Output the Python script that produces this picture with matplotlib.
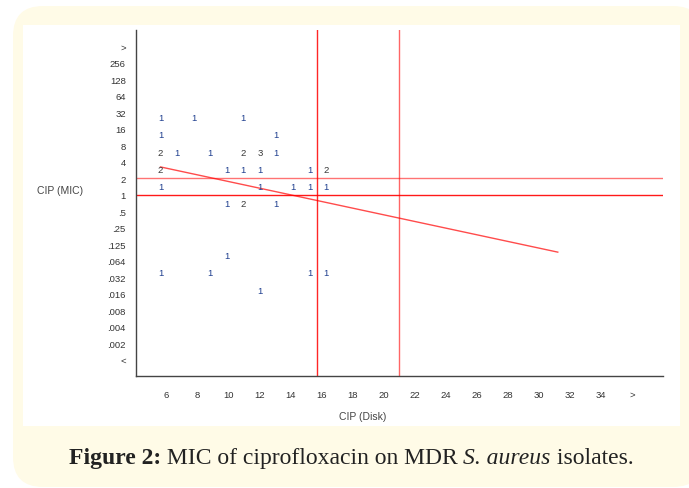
import matplotlib
matplotlib.use("Agg")
import matplotlib.pyplot as plt
from matplotlib.patches import FancyBboxPatch, Rectangle

# MIC categories (bottom to top) and disk zone ticks
mic_labels = ["<", ".002", ".004", ".008", ".016", ".032", ".064", ".125", ".25", ".5",
              "1", "2", "4", "8", "16", "32", "64", "128", "256", ">"]
disk_ticks = [6, 8, 10, 12, 14, 16, 18, 20, 22, 24, 26, 28, 30, 32, 34, 36]
disk_labels = ["6", "8", "10", "12", "14", "16", "18", "20", "22", "24", "26", "28",
               "30", "32", "34", ">"]

# isolate counts: disk zone (mm), MIC row index, count
cnt_disk = [6, 8, 11,
            6, 13,
            6, 7, 9, 11, 12, 13,
            6, 10, 11, 12, 15, 16,
            6, 12, 14, 15, 16,
            10, 11, 13,
            10,
            6, 9, 15, 16,
            12]
cnt_row = [15, 15, 15,
           14, 14,
           13, 13, 13, 13, 13, 13,
           12, 12, 12, 12, 12, 12,
           11, 11, 11, 11, 11,
           10, 10, 10,
           7,
           6, 6, 6, 6,
           5]
cnt_val = [1, 1, 1,
           1, 1,
           2, 1, 1, 2, 3, 1,
           2, 1, 1, 1, 1, 2,
           1, 1, 1, 1, 1,
           1, 2, 1,
           1,
           1, 1, 1, 1,
           1]

# regression line ends (disk, MIC row)
reg_disk = [6, 30]
reg_row = [12.14, 7.2]

# breakpoints
disk_bp = [15.7, 21.0]
mic_bp = [10, 11]  # 1 and 2


def cx(d):
    return 5.61 + (d - 6) * 1.067


def cy(r):
    return 14.67 - (15 - r) * 1.046


W, H = 689, 489
fig = plt.figure(figsize=(W / 100, H / 100), dpi=100)
fig.patch.set_facecolor("white")

bg = FancyBboxPatch((13, 1), 690, 481, boxstyle="round,pad=0,rounding_size=30",
                    transform=None, facecolor="#fffbe7", edgecolor="none", zorder=-20)
fig.patches.append(bg)
inner = Rectangle((23, 62), 657, 401, transform=None, facecolor="white",
                  edgecolor="none", zorder=-10)
fig.patches.append(inner)

ax = fig.add_axes([135.5 / W, 1 - 377 / H, (663 - 135.5) / W, (377 - 30.7) / H])
ax.set_facecolor("none")
ax.set_xlim(4, 38)
ax.set_ylim(-1, 20)

for s in ["top", "right"]:
    ax.spines[s].set_visible(False)
for s in ["left", "bottom"]:
    ax.spines[s].set_color("#444444")
    ax.spines[s].set_linewidth(1.0)

ax.set_yticks(range(len(mic_labels)))
ax.set_yticklabels(mic_labels)
ax.set_xticks(disk_ticks)
ax.set_xticklabels(disk_labels)
ax.tick_params(length=0, labelsize=6.8, labelcolor="#333333")
ax.tick_params(axis="y", pad=7)
ax.tick_params(axis="x", pad=10)
for lab in ax.get_xticklabels() + ax.get_yticklabels():
    lab.set_family(["Liberation Sans", "DejaVu Sans"])

# breakpoint lines
ax.axvline(disk_bp[0], color="#ff0000", lw=1.0, alpha=0.85)
ax.axvline(disk_bp[1], color="#ff0000", lw=1.0, alpha=0.6)
ax.axhline(mic_bp[0], color="#ff0000", lw=1.0, alpha=0.9)
ax.axhline(mic_bp[1], color="#ff0000", lw=1.0, alpha=0.55)

# regression line
ax.plot([cx(d) for d in reg_disk], [cy(r) for r in reg_row], color="#ff0000",
        lw=1.0, alpha=0.7)

# counts
for d, r, v in zip(cnt_disk, cnt_row, cnt_val):
    col = "#1f3f8f" if v == 1 else "#383838"
    ax.text(cx(d), cy(r), str(v), ha="center", va="center", fontsize=6.8,
            color=col, family=["Liberation Sans", "DejaVu Sans"])

fig.text(37 / W, 1 - 191 / H, "CIP (MIC)", ha="left", va="center", fontsize=7.5,
         color="#444444", family=["Liberation Sans", "DejaVu Sans"])
fig.text(363 / W, 1 - 417 / H, "CIP (Disk)", ha="center", va="center", fontsize=7.5,
         color="#444444", family=["Liberation Sans", "DejaVu Sans"])

# caption with mixed styles
pieces = [("Figure 2:", "bold", "normal"),
          (" MIC of ciprofloxacin on MDR ", "normal", "normal"),
          ("S. aureus", "normal", "italic"),
          (" isolates.", "normal", "normal")]
fig.canvas.draw()
renderer = fig.canvas.get_renderer()
texts = []
for s, w, st in pieces:
    t = fig.text(0, 1 - 459 / H, s, ha="left", va="center", fontsize=17,
                 fontweight=w, fontstyle=st, color="#222222",
                 family=["Liberation Serif", "DejaVu Serif"])
    texts.append(t)
widths = [t.get_window_extent(renderer).width for t in texts]
total = sum(widths)
x = 351 - total / 2
for t, w in zip(texts, widths):
    t.set_x(x / W)
    x += w

fig.savefig("out.png", dpi=100)
